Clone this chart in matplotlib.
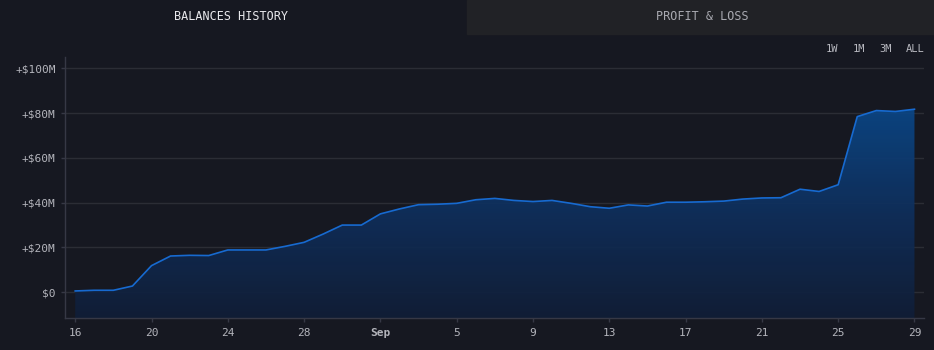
import numpy as np
import pandas as pd
import matplotlib
matplotlib.use("Agg")
import matplotlib.pyplot as plt
import matplotlib.dates as mdates
from matplotlib.colors import LinearSegmentedColormap
from matplotlib.patches import Rectangle

# daily balance, millions of USD (Aug 16 -> Sep 29)
dates = pd.date_range("2024-08-16", "2024-09-29", freq="D")
balance = [0.6, 0.9, 0.9, 2.8, 11.9, 16.2, 16.5, 16.4, 18.9, 18.9,
           18.9, 20.5, 22.3, 26.0, 30.0, 30.0, 35.0, 37.2, 39.1, 39.3,
           39.7, 41.3, 41.9, 41.0, 40.5, 41.0, 39.7, 38.2, 37.5, 39.0,
           38.5, 40.2, 40.2, 40.4, 40.7, 41.6, 42.1, 42.2, 46.0, 45.0,
           48.0, 78.4, 81.1, 80.7, 81.7]

y_ticks = [0, 20, 40, 60, 80, 100]
y_labels = ["$0", "+$20M", "+$40M", "+$60M", "+$80M", "+$100M"]
x_tick_dates = pd.to_datetime(["2024-08-16", "2024-08-20", "2024-08-24", "2024-08-28",
                               "2024-09-01", "2024-09-05", "2024-09-09", "2024-09-13",
                               "2024-09-17", "2024-09-21", "2024-09-25", "2024-09-29"])
x_tick_labels = ["16", "20", "24", "28", "Sep", "5", "9", "13", "17", "21", "25", "29"]
ranges = ["1W", "1M", "3M", "ALL"]

bg = "#161821"
mono = ["DejaVu Sans Mono"]

fig = plt.figure(figsize=(9.34, 3.5), dpi=100, facecolor=bg)

# tabs
fig.patches.append(Rectangle((467 / 934, 1 - 34 / 350), 1 - 467 / 934, 34 / 350,
                             transform=fig.transFigure, color="#212226", zorder=0))
fig.text(231 / 934, 1 - 16.5 / 350, "BALANCES HISTORY", color="#e8e8ec", fontsize=8.5,
         family=mono, ha="center", va="center")
fig.text(702 / 934, 1 - 16.5 / 350, "PROFIT & LOSS", color="#a8a9b0", fontsize=8.5,
         family=mono, ha="center", va="center")

for lab, xc in zip(ranges, [832, 859, 886, 915.5]):
    fig.text(xc / 934, 1 - 49 / 350, lab, color="#b8b9c0", fontsize=7.5,
             family=mono, ha="center", va="center")

ax = fig.add_axes([65.3 / 934, (350 - 318.3) / 350, (924 - 65.3) / 934, (318.3 - 57) / 350])
ax.set_facecolor(bg)

x = mdates.date2num(dates)
y = np.array(balance)
x0 = x[0] - 0.52
x1 = x[0] + 44.5
ymin, ymax = -11.6, 105

ax.set_xlim(x0, x1)
ax.set_ylim(ymin, ymax)

# gradient fill under the curve
cmap = LinearSegmentedColormap.from_list("fill", ["#111e37", "#0f2f5c", "#0b4787"])
grad = np.linspace(0, 1, 256).reshape(-1, 1)
im = ax.imshow(grad, cmap=cmap, aspect="auto", origin="lower", alpha=0.93,
               extent=[x[0], x[-1], ymin, y.max()], zorder=2)
clip = plt.Polygon(np.column_stack([np.r_[x, x[-1], x[0]], np.r_[y, ymin, ymin]]),
                   closed=True, transform=ax.transData, facecolor="none", edgecolor="none")
ax.add_patch(clip)
im.set_clip_path(clip)

ax.plot(x, y, color="#176ad0", lw=1.2, zorder=3)

ax.set_yticks(y_ticks)
ax.set_yticklabels(y_labels)
ax.set_xticks(mdates.date2num(x_tick_dates))
ax.set_xticklabels(x_tick_labels)
for t in ax.get_xticklabels():
    if t.get_text() == "Sep":
        t.set_fontweight("bold")

ax.grid(axis="y", color="#2b2d35", lw=1)
for gl in ax.get_ygridlines():
    gl.set_zorder(1)
for s in ["top", "right"]:
    ax.spines[s].set_visible(False)
for s in ["left", "bottom"]:
    ax.spines[s].set_color("#363845")
    ax.spines[s].set_linewidth(1)
    ax.spines[s].set_zorder(4)
ax.tick_params(colors="#363845", labelcolor="#b4b5bc", length=3, width=1,
               labelsize=8, pad=4)
for t in ax.get_xticklabels() + ax.get_yticklabels():
    t.set_family(mono)

fig.savefig("out.png", dpi=100, facecolor=bg)
